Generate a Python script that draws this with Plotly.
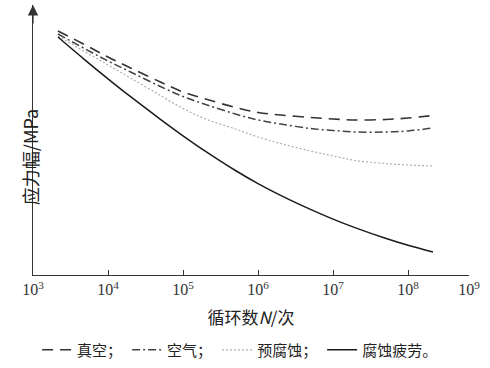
import plotly.graph_objects as go

# Cycle numbers N (log scale)
cycles = [2.15e3, 5e3, 1e4, 2e4, 5e4, 1e5, 2e5, 5e5, 1e6, 2e6, 5e6, 1e7, 2e7, 5e7, 1e8, 2.15e8]

# Stress amplitude (arbitrary units, y axis has no tick values)
vacuum = [244, 230, 218, 207, 193, 183, 176, 167.5, 162.5, 160, 157.5, 156, 155, 155.5, 157, 159.5]
air = [241, 226, 214, 203, 188.5, 178.5, 170.5, 161, 155, 151, 146.5, 144.5, 143, 143, 144, 147]
pre_corroded = [239, 223, 210, 197, 179.5, 166.5, 156, 146, 138, 131.5, 124, 119, 114.5, 111.5, 110, 109]
corrosion_fatigue = [238, 214.7, 196.2, 178.3, 155.7, 139.2, 123.6, 104.5, 91.4, 79.6, 65.6, 55.9, 47.1, 36.7, 29.7, 23]

series_names = ["真空；", "空气；", "预腐蚀；", "腐蚀疲劳。"]

tick_vals = [1e3, 1e4, 1e5, 1e6, 1e7, 1e8, 10 ** 8.813]
tick_text = ["10<sup>3</sup>", "10<sup>4</sup>", "10<sup>5</sup>", "10<sup>6</sup>",
             "10<sup>7</sup>", "10<sup>8</sup>", "10<sup>9</sup>"]

fig = go.Figure()
styles = [
    dict(color="#333333", width=1.6, dash="11px,7px"),
    dict(color="#444444", width=1.5, dash="8px,3px,2px,3px"),
    dict(color="#b0b0b0", width=1.2, dash="2px,2px"),
    dict(color="#1a1a1a", width=1.5),
]
for name, vals, st in zip(series_names, [vacuum, air, pre_corroded, corrosion_fatigue], styles):
    fig.add_trace(go.Scatter(x=cycles, y=vals, mode="lines", name=name,
                             line=dict(shape="spline", **st)))

fig.update_layout(
    width=490, height=368,
    margin=dict(l=33, r=21, t=5, b=93, autoexpand=False),
    paper_bgcolor="white", plot_bgcolor="white",
    showlegend=True,
    legend=dict(orientation="h", x=0.475, xanchor="center", y=-0.278, yanchor="middle",
                font=dict(family="Noto Sans CJK SC", size=15, color="#222"),
                itemwidth=30, tracegroupgap=0, bgcolor="rgba(0,0,0,0)"),
    xaxis=dict(type="log", range=[3, 8.813], tickvals=tick_vals, ticktext=tick_text,
               automargin=False,
               ticks="inside", ticklen=5, tickcolor="#333", tickwidth=1.2,
               showline=True, linecolor="#333", linewidth=1.3, showgrid=False, zeroline=False,
               tickfont=dict(family="Liberation Serif", size=16, color="#333"),
               title=dict(text="循环数<i>N</i>/次", standoff=14,
                          font=dict(family="Noto Sans CJK SC, Liberation Serif", size=17, color="#222"))),
    yaxis=dict(range=[0, 270], showline=True, linecolor="#333", linewidth=1.3, automargin=False,
               showticklabels=False, ticks="", showgrid=False, zeroline=False),
    annotations=[
        dict(x=0, y=1, xref="paper", yref="paper", ax=0, ay=20, showarrow=True,
             arrowhead=2, arrowsize=1.6, arrowwidth=1.3, arrowcolor="#333", text="", standoff=0),
        dict(x=-0.041, y=0.437, xref="paper", yref="paper", showarrow=False, textangle=-90,
             text="应力幅/MPa",
             font=dict(family="Noto Sans CJK SC, Liberation Serif", size=18, color="#222")),
    ],
)

fig.write_html("out.html", config={"displayModeBar": False},
               post_script="document.body.style.margin='0';")
